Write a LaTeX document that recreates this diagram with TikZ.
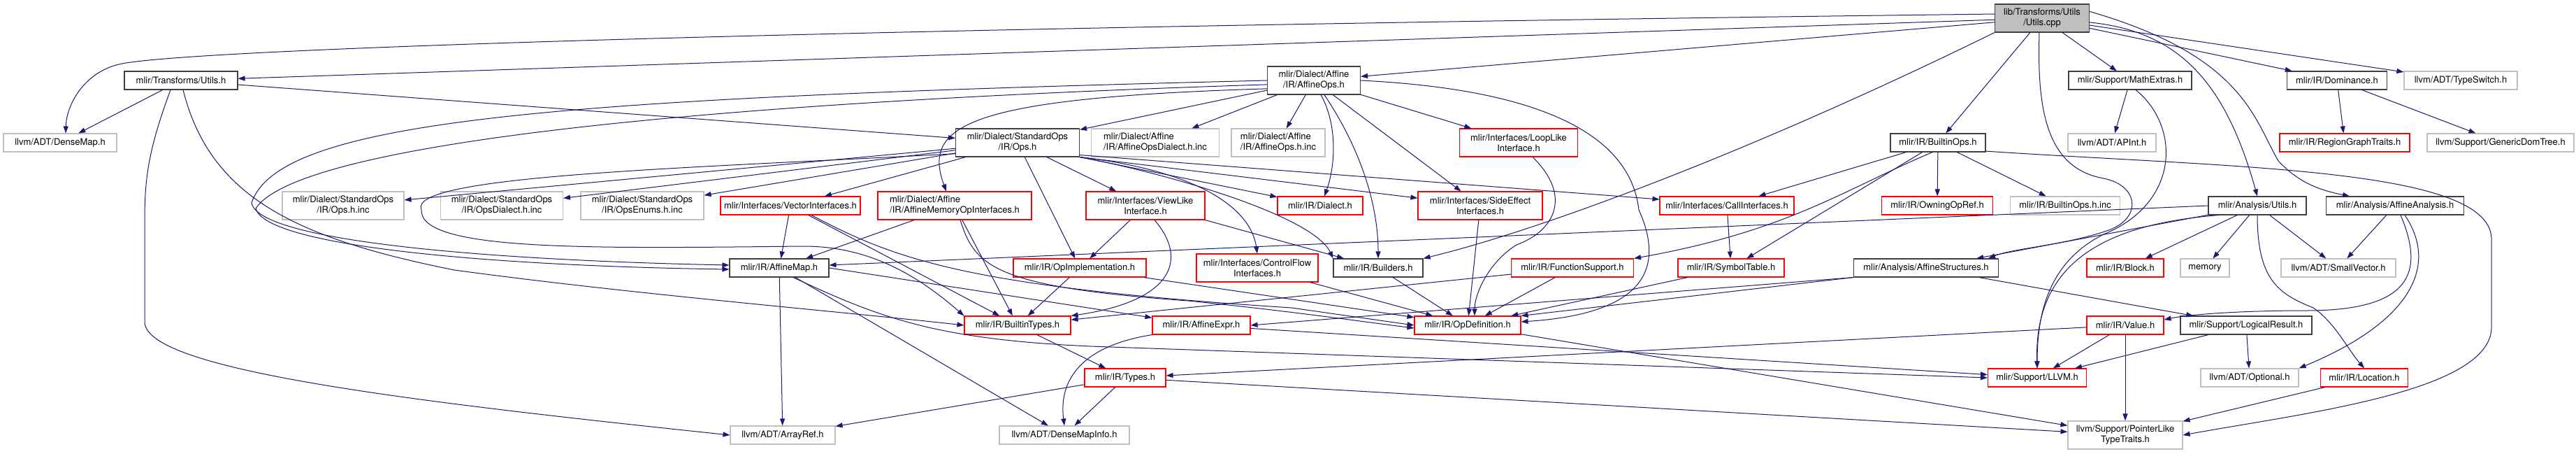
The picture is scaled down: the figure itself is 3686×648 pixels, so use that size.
\documentclass[tikz,border=0pt]{standalone}
\usepackage{fontspec}
\setmainfont{TeX Gyre Heros}
\usepackage{tikz}
\usetikzlibrary{arrows.meta}
\definecolor{edgec}{HTML}{191970}
\definecolor{ink}{HTML}{404040}
\definecolor{redc}{HTML}{FF0000}
\definecolor{greyc}{HTML}{BFBFBF}

\begin{document}
\begin{tikzpicture}[x=1pt, y=-1pt, >={Triangle[length=10pt,width=7pt]},
        hdr/.style={draw, line width=1.1pt, fill=white, inner xsep=4pt, inner ysep=0pt, minimum height=26pt, align=center, font=\fontsize{13}{15}\selectfont},
        known/.style={hdr, draw=ink},
        trunc/.style={hdr, draw=redc},
        ext/.style={hdr, draw=greyc},
        root/.style={hdr, draw=ink, fill=greyc},
        tall/.style={minimum height=40pt},
        dep/.style={->, draw=edgec, line width=1pt}]
        \useasboundingbox (0,0) rectangle (3686,648);
        \node[root, tall, minimum width=135pt] (cpp) at (2922,26) {lib/Transforms/Utils\\/Utils.cpp};
        \node[known, minimum width=162pt] (tutils) at (259,115) {mlir/Transforms/Utils.h};
        \node[known, tall, minimum width=133pt] (affops) at (1880,115) {mlir/Dialect/Affine\\/IR/AffineOps.h};
        \node[known, minimum width=176pt] (mathext) at (3048,115) {mlir/Support/MathExtras.h};
        \node[known, minimum width=143pt] (dominance) at (3344,115) {mlir/IR/Dominance.h};
        \node[ext, minimum width=162pt] (typeswitch) at (3521,115) {llvm/ADT/TypeSwitch.h};
        \node[ext, minimum width=162pt] (densemap) at (86,204) {llvm/ADT/DenseMap.h};
        \node[known, tall, minimum width=177pt] (stdops) at (1456,204) {mlir/Dialect/StandardOps\\/IR/Ops.h};
        \node[ext, tall, align=left, minimum width=183pt] (affdialinc) at (1653,204) {mlir/Dialect/Affine\\/IR/AffineOpsDialect.h.inc};
        \node[ext, tall, align=left, minimum width=134pt] (affopsinc) at (1829,204) {mlir/Dialect/Affine\\/IR/AffineOps.h.inc};
        \node[trunc, tall, minimum width=169pt] (looplike) at (2173,204) {mlir/Interfaces/LoopLike\\Interface.h};
        \node[known, minimum width=136pt] (builtinops) at (2773,204) {mlir/IR/BuiltinOps.h};
        \node[ext, minimum width=126pt] (apint) at (3022,204) {llvm/ADT/APInt.h};
        \node[trunc, minimum width=186pt] (regiongt) at (3355,204) {mlir/IR/RegionGraphTraits.h};
        \node[ext, minimum width=210pt] (gendom) at (3578,204) {llvm/Support/GenericDomTree.h};
        \node[ext, tall, minimum width=174pt] (opsinc) at (491,294) {mlir/Dialect/StandardOps\\/IR/Ops.h.inc};
        \node[ext, tall, minimum width=175pt] (opsdialinc) at (718,294) {mlir/Dialect/StandardOps\\/IR/OpsDialect.h.inc};
        \node[ext, tall, minimum width=176pt] (opsenuminc) at (919,294) {mlir/Dialect/StandardOps\\/IR/OpsEnums.h.inc};
        \node[trunc, minimum width=200pt] (vecif) at (1131,294) {mlir/Interfaces/VectorInterfaces.h};
        \node[trunc, tall, align=left, minimum width=220pt] (affmem) at (1366,294) {mlir/Dialect/Affine\\/IR/AffineMemoryOpInterfaces.h};
        \node[trunc, tall, minimum width=170pt] (viewlike) at (1639,294) {mlir/Interfaces/ViewLike\\Interface.h};
        \node[trunc, minimum width=122pt] (dialect) at (1889,294) {mlir/IR/Dialect.h};
        \node[trunc, tall, minimum width=178pt] (sideeff) at (2118,294) {mlir/Interfaces/SideEffect\\Interfaces.h};
        \node[trunc, minimum width=192pt] (callif) at (2471,294) {mlir/Interfaces/CallInterfaces.h};
        \node[trunc, minimum width=159pt] (owning) at (2772,294) {mlir/IR/OwningOpRef.h};
        \node[ext, minimum width=157pt] (builtinopsinc) at (2955,294) {mlir/IR/BuiltinOps.h.inc};
        \node[known, minimum width=140pt] (anautils) at (3230,294) {mlir/Analysis/Utils.h};
        \node[known, minimum width=197pt] (affana) at (3427,294) {mlir/Analysis/AffineAnalysis.h};
        \node[known, minimum width=142pt] (affmap) at (1115,383) {mlir/IR/AffineMap.h};
        \node[trunc, minimum width=190pt] (opimpl) at (1545,383) {mlir/IR/OpImplementation.h};
        \node[trunc, tall, minimum width=174pt] (cflow) at (1799,383) {mlir/Interfaces/ControlFlow\\Interfaces.h};
        \node[known, minimum width=128pt] (builders) at (1972,383) {mlir/IR/Builders.h};
        \node[trunc, minimum width=175pt] (funcsup) at (2250,383) {mlir/IR/FunctionSupport.h};
        \node[trunc, minimum width=152pt] (symtab) at (2477,383) {mlir/IR/SymbolTable.h};
        \node[known, minimum width=207pt] (affstruct) at (2756,383) {mlir/Analysis/AffineStructures.h};
        \node[trunc, minimum width=110pt] (block) at (3041,383) {mlir/IR/Block.h};
        \node[ext, minimum width=70pt] (memory) at (3155,383) {memory};
        \node[ext, minimum width=164pt] (smallvec) at (3346,383) {llvm/ADT/SmallVector.h};
        \node[trunc, minimum width=152pt] (builtintypes) at (1456,465) {mlir/IR/BuiltinTypes.h};
        \node[trunc, minimum width=140pt] (affexpr) at (1719,465) {mlir/IR/AffineExpr.h};
        \node[trunc, minimum width=152pt] (opdef) at (2100,465) {mlir/IR/OpDefinition.h};
        \node[trunc, minimum width=110pt] (value) at (3041,465) {mlir/IR/Value.h};
        \node[known, minimum width=188pt] (logres) at (3214,465) {mlir/Support/LogicalResult.h};
        \node[trunc, minimum width=116pt] (types) at (1610,540) {mlir/IR/Types.h};
        \node[trunc, minimum width=141pt] (llvmh) at (2915,540) {mlir/Support/LLVM.h};
        \node[ext, minimum width=140pt] (optional) at (3219,540) {llvm/ADT/Optional.h};
        \node[trunc, minimum width=125pt] (location) at (3383,540) {mlir/IR/Location.h};
        \node[ext, minimum width=150pt] (arrayref) at (1120,622) {llvm/ADT/ArrayRef.h};
        \node[ext, minimum width=186pt] (dmapinfo) at (1523,622) {llvm/ADT/DenseMapInfo.h};
        \node[ext, tall, minimum width=164pt] (ptrlike) at (3041,622) {llvm/Support/PointerLike\\TypeTraits.h};

        \foreach \dst in {tutils,affops,builtinops,mathext,dominance,typeswitch} \draw[dep] (cpp) -- (\dst);
        \draw[dep] (cpp.175) .. controls (1200,40) and (260,70) .. (170,92) .. controls (120,104) and (95,150) .. ([xshift=8pt]densemap.north);
        \draw[dep] (cpp.south west) .. controls (2500,220) and (2200,330) .. (builders.north east);
        \draw[dep] (cpp.-5) .. controls (3120,45) and (3185,120) .. (anautils.north);
        \draw[dep] (cpp.8) .. controls (3210,80) and (3225,170) .. (3260,230) .. controls (3290,262) and (3320,272) .. ([xshift=-65pt]affana.north);
        \draw[dep] ([xshift=-4pt]cpp.south) .. controls (2915,150) and (2925,240) .. (3010,255) .. controls (3060,265) and (3065,310) .. (3020,328) .. controls (2960,350) and (2880,355) .. ([xshift=-15pt]affstruct.north east);
        \draw[dep] (tutils) -- (densemap);
        \draw[dep] (tutils) -- (stdops);
        \draw[dep] ([xshift=-15pt]tutils.south) .. controls (210,220) and (207,260) .. (207,320) -- (207,460) .. controls (207,530) and (600,575) .. (arrayref.west);
        \draw[dep] ([xshift=3pt]tutils.south) .. controls (300,280) and (420,340) .. (650,386) .. controls (900,420) and (1200,445) .. (builtintypes.west);
        \foreach \dst in {stdops,affdialinc,affopsinc,looplike,sideeff} \draw[dep] (affops) -- (\dst);
        \draw[dep] ([xshift=10pt]affops.south) .. controls (1915,180) and (1910,240) .. ([xshift=6pt]dialect.north);
        \draw[dep] ([xshift=15pt]affops.south) .. controls (1945,210) and (1972,290) .. (builders.north);
        \draw[dep] (affops.190) .. controls (1380,140) and (1320,180) .. ([xshift=-12pt]affmem.north);
        \draw[dep] (affops.west) .. controls (800,140) and (400,170) .. (360,290) .. controls (370,345) and (700,372) .. ([yshift=4pt]affmap.west);
        \draw[dep] (affops.185) .. controls (900,150) and (420,215) .. (366,298) .. controls (380,352) and (700,380) .. ([yshift=-2pt]affmap.west);
        \draw[dep] (affops.east) .. controls (2150,125) and (2330,170) .. (2345,300) .. controls (2390,400) and (2330,450) .. ([yshift=5pt]opdef.east);
        \foreach \dst in {opsinc,opsdialinc,opsenuminc,vecif,viewlike,opimpl} \draw[dep] (stdops) -- (\dst);
        \draw[dep] (stdops.south east) -- (dialect);
        \draw[dep] (stdops.south east) -- (sideeff);
        \draw[dep] ([yshift=3pt]stdops.south east) -- ([yshift=9pt]callif.west);
        \draw[dep] (stdops.south east) .. controls (1680,250) and (1880,310) .. (builders.north west);
        \draw[dep] (stdops.south east) .. controls (1720,245) and (1790,300) .. (cflow.north);
        \draw[dep] (stdops.190) .. controls (1000,240) and (580,250) .. (603,300) .. controls (600,360) and (850,355) .. (1150,352) .. controls (1250,352) and (1320,400) .. (builtintypes.north west);
        \draw[dep] (vecif) -- (affmap);
        \draw[dep] (vecif) -- (builtintypes);
        \draw[dep] ([xshift=30pt]vecif.south) .. controls (1280,370) and (1380,410) .. (1848,440) -- (opdef.west);
        \draw[dep] (affmem) -- (affmap);
        \draw[dep] (affmem) -- (builtintypes);
        \draw[dep] ([xshift=8pt]affmem.south) .. controls (1395,380) and (1420,410) .. (1700,430) .. controls (1850,445) and (1950,460) .. ([yshift=-4pt]opdef.west);
        \draw[dep] (viewlike) -- (opimpl);
        \draw[dep] ([xshift=13pt]viewlike.south) .. controls (1700,370) and (1680,430) .. (builtintypes.north east);
        \draw[dep] (viewlike.south east) -- (builders);
        \draw[dep] (opimpl) -- (builtintypes);
        \foreach \src in {opimpl,cflow,builders,sideeff,funcsup,symtab} \draw[dep] (\src) -- (opdef);
        \draw[dep] ([xshift=20pt]looplike.south) .. controls (2250,280) and (2225,330) .. (2170,350) .. controls (2130,375) and (2110,420) .. ([xshift=10pt]opdef.north);
        \draw[dep] (funcsup) -- (builtintypes);
        \foreach \dst in {callif,owning,builtinopsinc,symtab} \draw[dep] (builtinops) -- (\dst);
        \draw[dep] (builtinops.240) .. controls (2640,270) and (2560,330) .. (funcsup.north east);
        \draw[dep] (builtinops.-10) .. controls (3200,240) and (3560,240) .. (3565,340) -- (3565,470) .. controls (3560,560) and (3300,590) .. (ptrlike.east);
        \draw[dep] (callif) -- (symtab);
        \foreach \dst in {affstruct,block,memory,smallvec} \draw[dep] (anautils) -- (\dst);
        \draw[dep] (anautils.west) -- ([yshift=4pt]affmap.east);
        \draw[dep] ([xshift=15pt]anautils.south west) .. controls (3020,320) and (2910,370) .. (llvmh.north);
        \draw[dep] (anautils.south) .. controls (3230,400) and (3260,420) .. (3310,440) .. controls (3340,460) and (3360,500) .. (location.north);
        \draw[dep] (affana) -- (smallvec);
        \draw[dep] ([xshift=8pt]affana.south) .. controls (3470,390) and (3450,444) .. (3300,444) .. controls (3200,444) and (3130,450) .. ([yshift=8pt]value.east);
        \draw[dep] ([xshift=14pt]affana.south) .. controls (3490,380) and (3450,460) .. (optional.north east);
        \draw[dep] (mathext) -- (apint);
        \draw[dep] ([xshift=8pt]mathext.south) .. controls (3120,180) and (3120,290) .. (3010,335) .. controls (2930,375) and (2915,450) .. (llvmh.north);
        \draw[dep] (dominance) -- (regiongt);
        \draw[dep] (dominance) -- (gendom);
        \draw[dep] (affstruct.south west) -- (affexpr.east);
        \draw[dep] (affstruct.south west) -- (opdef.north east);
        \draw[dep] (affstruct) -- (logres);
        \draw[dep] (affmap) -- (arrayref);
        \draw[dep] (affmap) -- (dmapinfo);
        \draw[dep] (affmap.east) -- (affexpr);
        \draw[dep] ([xshift=20pt]affmap.south) .. controls (1260,455) and (1340,485) .. (1560,495) -- (llvmh.west);
        \draw[dep] (affexpr) -- (llvmh);
        \draw[dep] (affexpr.south west) .. controls (1545,495) and (1515,545) .. (dmapinfo.north);
        \draw[dep] (builtintypes) -- (types);
        \foreach \dst in {arrayref,dmapinfo,ptrlike} \draw[dep] (types) -- (\dst);
        \draw[dep] (opdef) -- (ptrlike);
        \foreach \dst in {llvmh,ptrlike,types} \draw[dep] (value) -- (\dst);
        \draw[dep] (logres) -- (llvmh);
        \draw[dep] (logres) -- (optional);
        \draw[dep] (location) -- (ptrlike);
      \end{tikzpicture}
\end{document}
